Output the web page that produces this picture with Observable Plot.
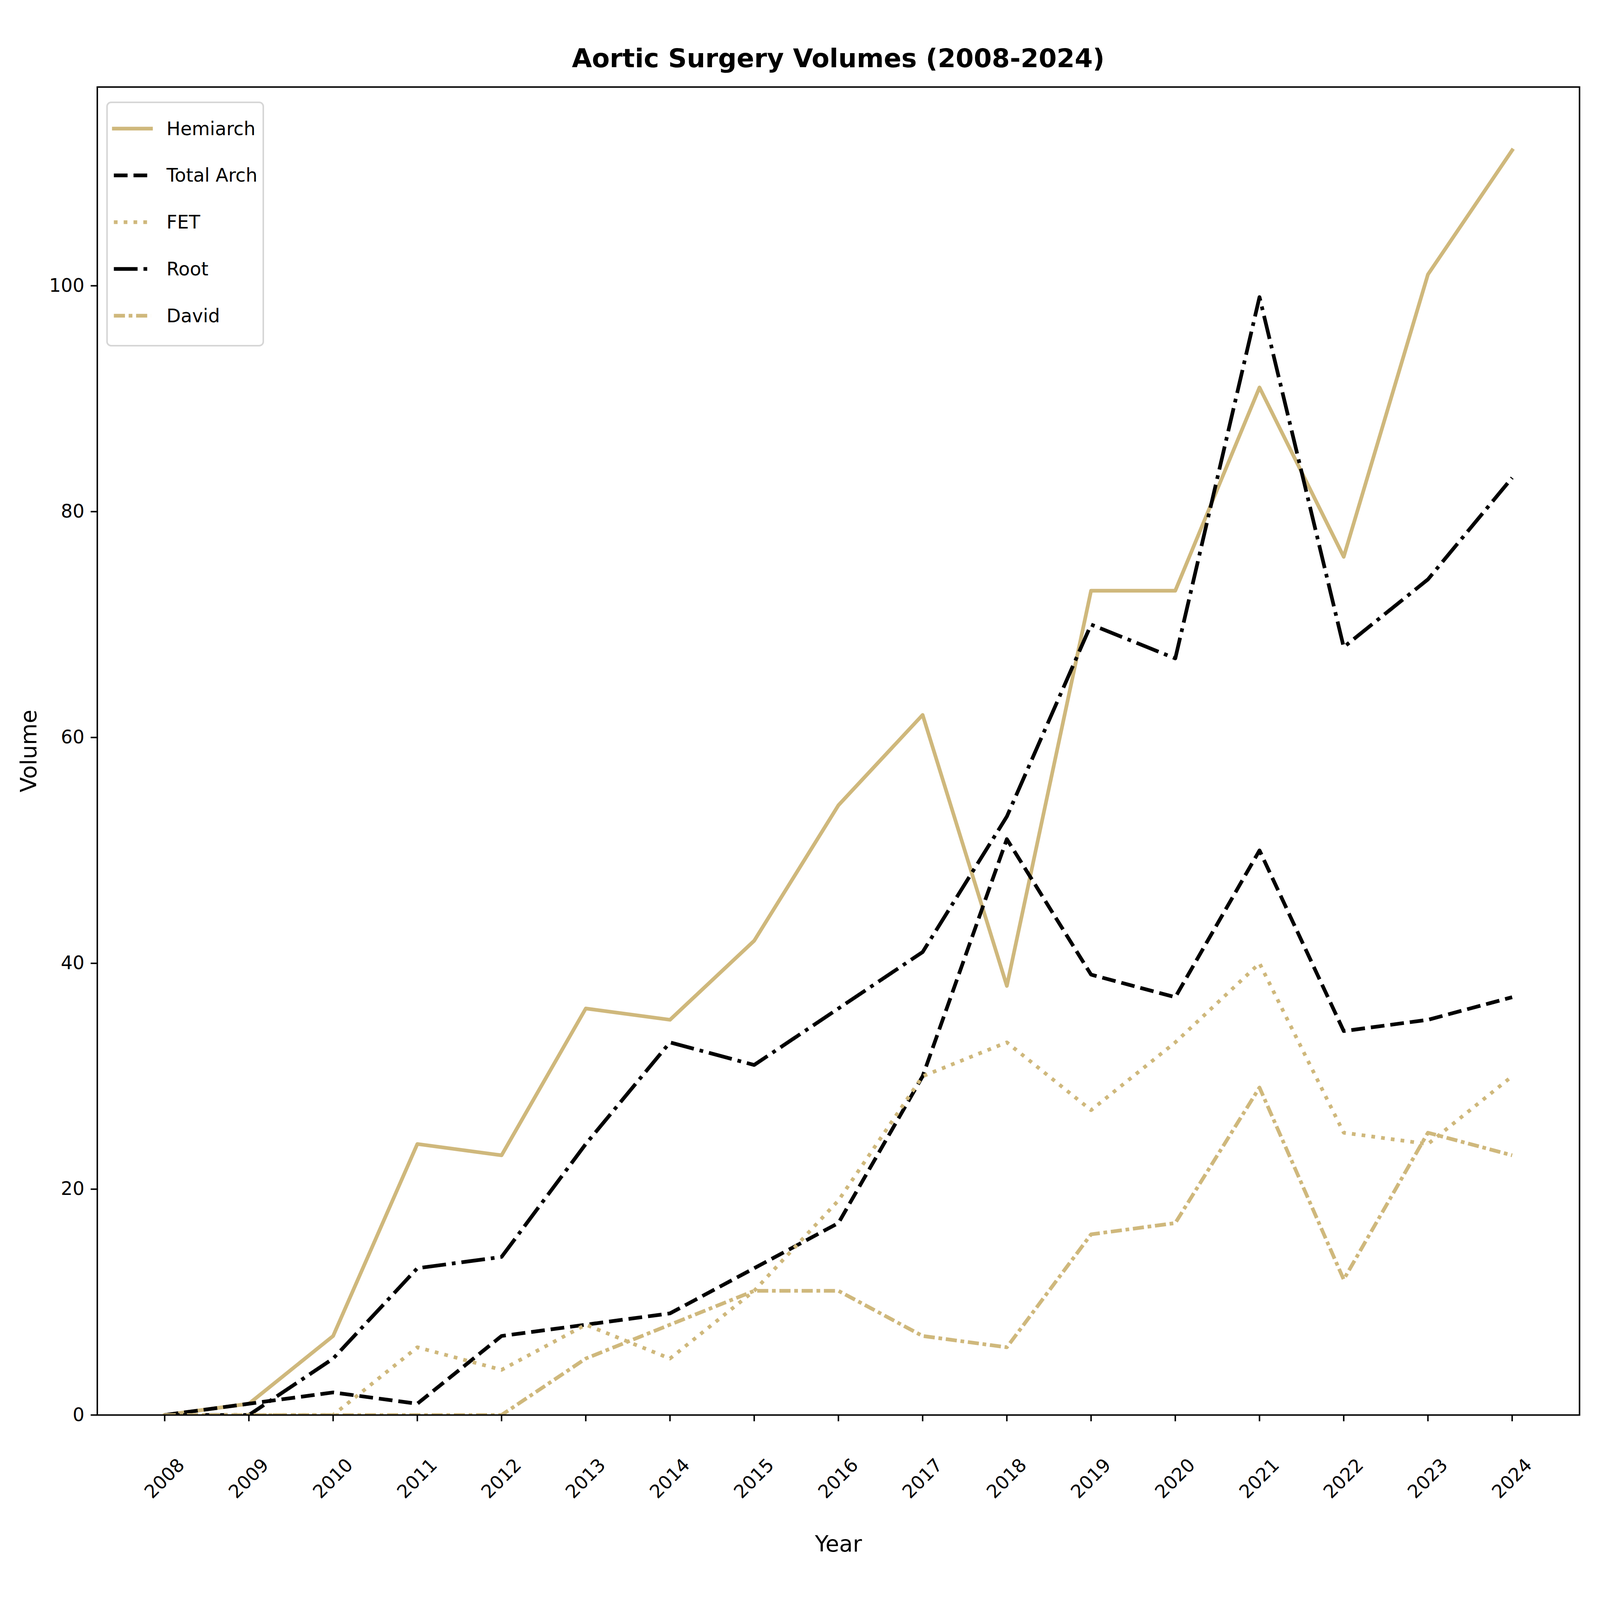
<!DOCTYPE html>
<html>
<head>
<meta charset="utf-8">
<script src="https://cdn.jsdelivr.net/npm/d3@7"></script>
<script src="https://cdn.jsdelivr.net/npm/@observablehq/plot@0.6"></script>
<style>
  html, body { margin: 0; padding: 0; background: #ffffff; overflow: hidden; }
  #wrap { position: relative; font-family: "DejaVu Sans", sans-serif; color: #000; background: #fff; }
  #title { position: absolute; text-align: center; font-weight: bold; white-space: nowrap; }
  #chart { position: absolute; left: 0; }
  #chart svg { display: block; max-width: none; }
  #legend { position: absolute; box-sizing: border-box; border-style: solid; border-color: #d6d6d6; background: rgba(255,255,255,0.8); }
  #legend svg { position: absolute; overflow: visible; }
</style>
</head>
<body>
<div id="wrap">
  <div id="title"></div>
  <div id="chart"></div>
  <div id="legend"></div>
</div>
<script>
// ---- data ----
const years = [2008, 2009, 2010, 2011, 2012, 2013, 2014, 2015, 2016, 2017, 2018, 2019, 2020, 2021, 2022, 2023, 2024];
const seriesNames = ["Hemiarch", "Total Arch", "FET", "Root", "David"];
const hemiarch  = [0, 1, 7, 24, 23, 36, 35, 42, 54, 62, 38, 73, 73, 91, 76, 101, 112];
const totalArch = [0, 1, 2, 1, 7, 8, 9, 13, 17, 30, 51, 39, 37, 50, 34, 35, 37];
const fet       = [0, 0, 0, 6, 4, 8, 5, 11, 19, 30, 33, 27, 33, 40, 25, 24, 30];
const root      = [0, 0, 5, 13, 14, 24, 33, 31, 36, 41, 53, 70, 67, 99, 68, 74, 83];
const david     = [0, 0, 0, 0, 0, 5, 8, 11, 11, 7, 6, 16, 17, 29, 12, 25, 23];
const yTicks = [0, 20, 40, 60, 80, 100];
const titleText = "Aortic Surgery Volumes (2008-2024)";
const xLabel = "Year";
const yLabel = "Volume";

// ---- styles (kept separate from data) ----
const gold = "#CFB87C";
const seriesStyles = [
  { stroke: gold,   dash: null,                  cap: "square" },
  { stroke: "#000", dash: [61.7, 26.7],          cap: "butt" },
  { stroke: gold,   dash: [16.7, 27.5],          cap: "butt" },
  { stroke: "#000", dash: [106.7, 26.7, 16.7, 26.7], cap: "butt" },
  { stroke: gold,   dash: [50, 16.7, 16.7, 16.7],    cap: "butt" }
];
const seriesValues = [hemiarch, totalArch, fet, root, david];

// ---- layout: the figure is designed at 7200x4200 and fitted to the window ----
const W = window.innerWidth || 7200;
const H = window.innerHeight || 4200;
const sx = W / 7200, sy = H / 4200, f = sx;
const wrap = document.getElementById("wrap");
wrap.style.width = W + "px";
wrap.style.height = H + "px";

const axL = 437 * sx, axR = 7107 * sx, axT = 228 * sy, axB = 3714 * sy;
const titleH = 200 * sy;

// title
const tEl = document.getElementById("title");
const tFs = 116.7 * f;
tEl.textContent = titleText;
tEl.style.fontSize = tFs + "px";
tEl.style.lineHeight = tFs + "px";
tEl.style.left = axL + "px";
tEl.style.width = (axR - axL) + "px";
tEl.style.top = (177 * sy - 0.846 * tFs) + "px";

// chart
const lw = 16.67 * f;
const dashStr = d => d ? d.map(v => (v * f).toFixed(2)).join(",") : undefined;
const tables = seriesValues.map((vals, i) =>
  years.map((yr, j) => ({ series: seriesNames[i], year: yr, value: vals[j] })));
const lineMarks = tables.map((t, i) => Plot.line(t, {
  x: "year", y: "value",
  stroke: seriesStyles[i].stroke,
  strokeWidth: lw,
  strokeDasharray: dashStr(seriesStyles[i].dash),
  strokeLinecap: seriesStyles[i].cap,
  strokeLinejoin: "round",
  clip: true
}));

const plotH = H - titleH;
const tickFs = 83.3 * f;
const chart = Plot.plot({
  width: W,
  height: plotH,
  marginTop: axT - titleH,
  marginBottom: H - axB,
  marginLeft: axL,
  marginRight: W - axR,
  x: { domain: [2007.2, 2024.8] },
  y: { domain: [0, 117.6] },
  style: { fontFamily: "DejaVu Sans, sans-serif", fontSize: tickFs + "px", color: "#000", background: "#fff", overflow: "visible" },
  marks: [
    ...lineMarks,
    Plot.frame({ stroke: "#000", strokeWidth: 6.67 * f }),
    Plot.axisX({ ticks: years, tickSize: 29 * f, tickFormat: () => "", strokeWidth: 6.67 * f, stroke: "#000", label: null }),
    Plot.text(years, { x: d => d, frameAnchor: "bottom", dy: 167 * sy, rotate: -45, text: d => String(d),
                       fontSize: tickFs, textAnchor: "middle", lineAnchor: "middle", fill: "#000" }),
    Plot.axisY({ ticks: yTicks, tickSize: 29 * f, tickPadding: 29 * f, strokeWidth: 6.67 * f, stroke: "#000",
                 fontSize: tickFs, label: null, tickFormat: d => String(d) }),
    Plot.text([xLabel], { frameAnchor: "bottom", dy: 358 * sy, text: d => d, fontSize: 100 * f,
                          lineAnchor: "bottom", textAnchor: "middle", fill: "#000" }),
    Plot.text([yLabel], { frameAnchor: "left", dx: (162 - 437) * sx, text: d => d, fontSize: 100 * f, rotate: -90,
                          lineAnchor: "bottom", textAnchor: "middle", fill: "#000" })
  ]
});
const chartDiv = document.getElementById("chart");
chartDiv.style.top = titleH + "px";
chartDiv.appendChild(chart);

// legend
const lgEl = document.getElementById("legend");
const lgW = 711 * sx, lgH = 643 * sy, bw = 8.3 * f;
lgEl.style.left = (478 * sx) + "px";
lgEl.style.top = (267 * sy) + "px";
lgEl.style.width = lgW + "px";
lgEl.style.height = lgH + "px";
lgEl.style.borderWidth = bw + "px";
lgEl.style.borderRadius = (22 * f) + "px";
const legend = d3.select("#legend").append("svg")
  .attr("width", lgW).attr("height", lgH)
  .style("left", (-bw) + "px").style("top", (-bw) + "px");
seriesNames.forEach((name, i) => {
  const cy = (71 + i * 122.8) * sy;
  const st = seriesStyles[i];
  const ln = legend.append("line")
    .attr("x1", 36 * sx).attr("x2", (36 + 167) * sx).attr("y1", cy).attr("y2", cy)
    .attr("stroke", st.stroke).attr("stroke-width", lw)
    .attr("stroke-linecap", st.cap);
  if (st.dash) ln.attr("stroke-dasharray", dashStr(st.dash));
  legend.append("text")
    .attr("x", 273 * sx).attr("y", cy + 29 * f)
    .attr("font-family", "DejaVu Sans, sans-serif")
    .attr("font-size", tickFs)
    .attr("fill", "#000")
    .text(name);
});
</script>
</body>
</html>
